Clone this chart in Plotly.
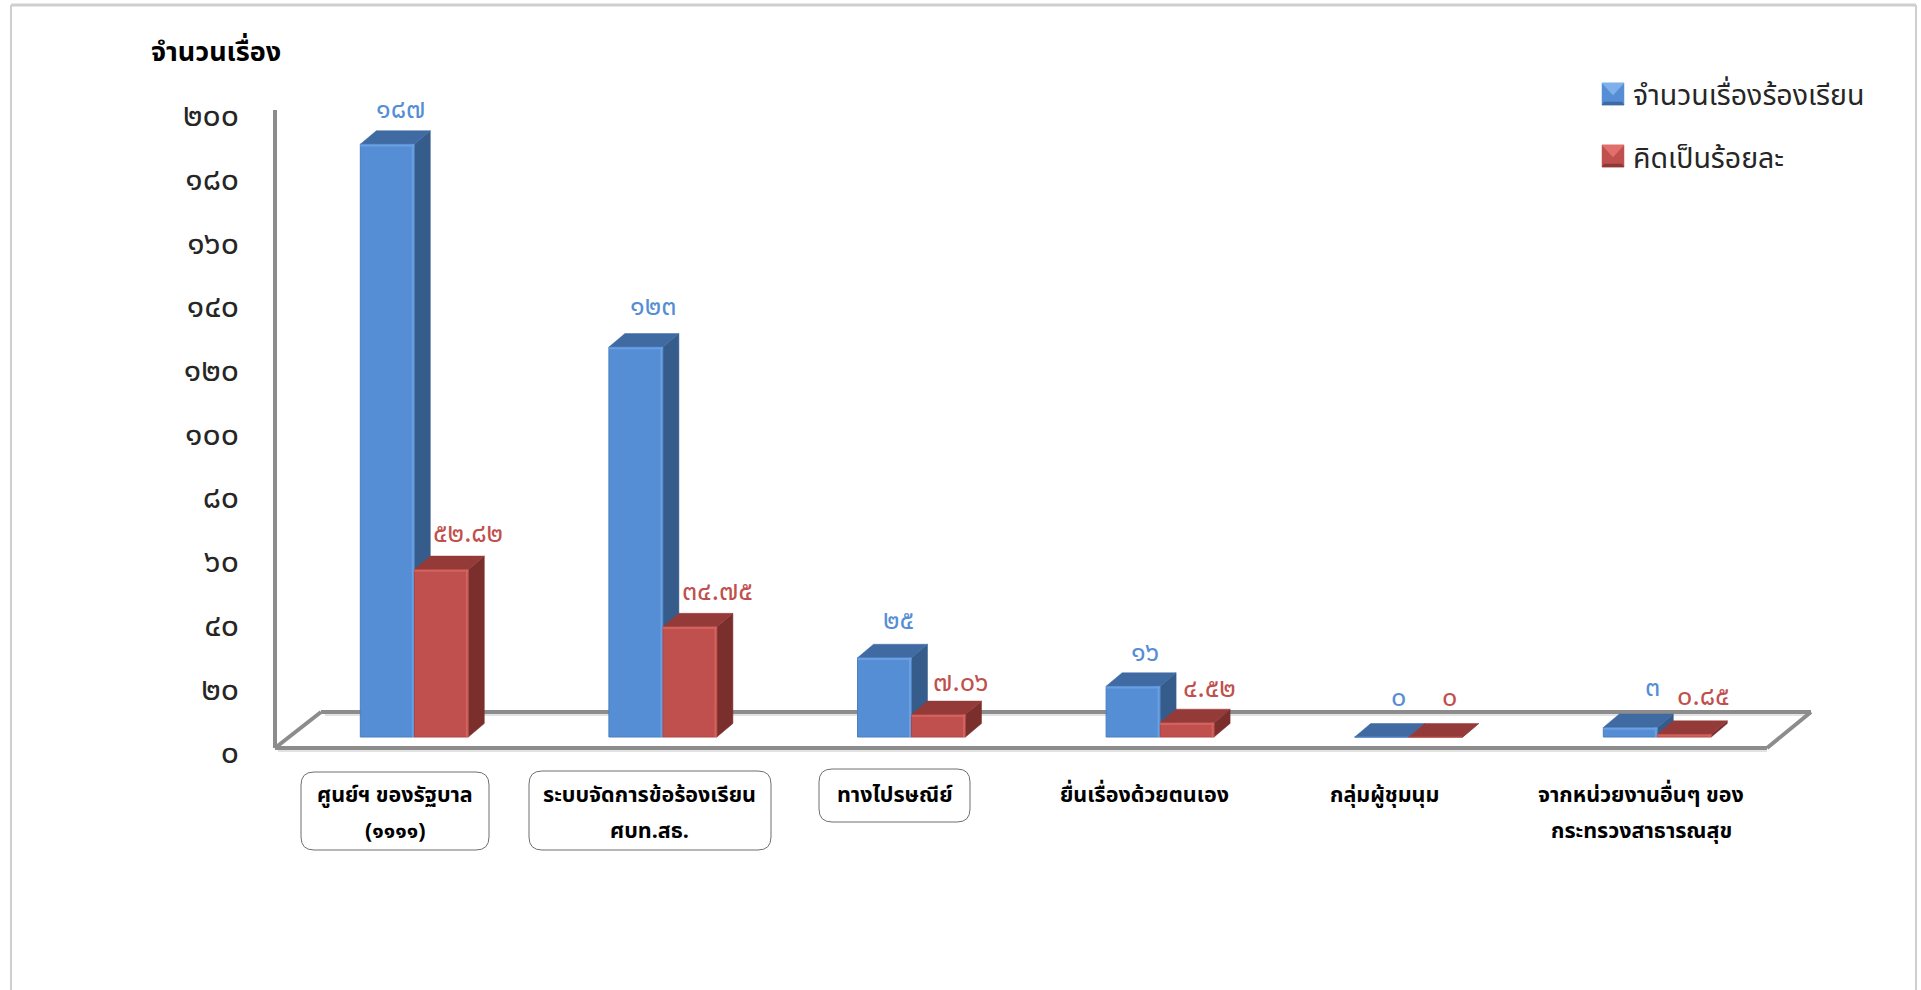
import plotly.graph_objects as go

# ---- data ----
categories = ["ศูนย์ฯ ของรัฐบาล (๑๑๑๑)", "ระบบจัดการข้อร้องเรียน ศบท.สธ.", "ทางไปรษณีย์",
              "ยื่นเรื่องด้วยตนเอง", "กลุ่มผู้ชุมนุม", "จากหน่วยงานอื่นๆ ของ กระทรวงสาธารณสุข"]
category_lines = [["ศูนย์ฯ ของรัฐบาล", "(๑๑๑๑)"], ["ระบบจัดการข้อร้องเรียน", "ศบท.สธ."], ["ทางไปรษณีย์"],
                  ["ยื่นเรื่องด้วยตนเอง"], ["กลุ่มผู้ชุมนุม"], ["จากหน่วยงานอื่นๆ ของ", "กระทรวงสาธารณสุข"]]
complaints = [187, 123, 25, 16, 0, 3]
percent = [52.82, 34.75, 7.06, 4.52, 0, 0.85]
complaints_text = ["๑๘๗", "๑๒๓", "๒๕", "๑๖", "๐", "๓"]
percent_text = ["๕๒.๘๒", "๓๔.๗๕", "๗.๐๖", "๔.๕๒", "๐", "๐.๘๕"]
tick_values = list(range(0, 201, 20))
tick_text = ["๐", "๒๐", "๔๐", "๖๐", "๘๐", "๑๐๐", "๑๒๐", "๑๔๐", "๑๖๐", "๑๘๐", "๒๐๐"]
series_names = ["จำนวนเรื่องร้องเรียน", "คิดเป็นร้อยละ"]
y_title = "จำนวนเรื่อง"

# ---- layout constants (pixels of the 1921x990 page) ----
W, H = 1921, 990
FONT = "Noto Sans Thai, Noto Sans, Tahoma, sans-serif"
GROUP0_PX, GROUP_STEP_PX = 414.3, 248.6
BASE_PX, UNIT_PX = 737.0, 3.17
TICK0_PX, TICK_UNIT_PX = 752.0, 3.185
BAR_PX, DEPTH_X_PX, DEPTH_Y_PX = 54.0, 16.0, 13.5
BLUE, BLUE_SIDE, BLUE_TOP, BLUE_RIM = "#558ed5", "#355c8a", "#3f6ba2", "#6a9fe2"
RED, RED_SIDE, RED_TOP, RED_RIM = "#c0504d", "#7b2f2d", "#943a38", "#d2625e"
GREY = "#8c8c8c"

xr = [(0 - GROUP0_PX) / GROUP_STEP_PX, (W - GROUP0_PX) / GROUP_STEP_PX]
yr = [(BASE_PX - H) / UNIT_PX, BASE_PX / UNIT_PX]
yr2 = [(TICK0_PX - H) / TICK_UNIT_PX, TICK0_PX / TICK_UNIT_PX]
px = lambda x: x / W
py = lambda y: 1 - y / H
dx = DEPTH_X_PX / GROUP_STEP_PX
dy = DEPTH_Y_PX / UNIT_PX
bw = BAR_PX / GROUP_STEP_PX

fig = go.Figure()
fig.add_bar(x=categories, y=complaints, name=series_names[0], marker=dict(color=BLUE, line=dict(color="#4a7fc0", width=1)))
fig.add_bar(x=categories, y=percent, name=series_names[1], marker=dict(color=RED, line=dict(color="#b04643", width=1)))
fig.add_scatter(x=[categories[0]] * len(tick_values), y=tick_values, yaxis="y2", mode="none",
                showlegend=False, hoverinfo="skip")

shapes = []


def poly(points, fill, ref=("x", "y")):
    path = "M" + "L".join(f"{a},{b}" for a, b in points) + "Z"
    shapes.append(dict(type="path", path=path, xref=ref[0], yref=ref[1], fillcolor=fill,
                       line=dict(color=fill, width=0.5), layer="below"))


def line(x0, y0, x1, y1, color=GREY, width=4):
    shapes.append(dict(type="line", x0=px(x0), y0=py(y0), x1=px(x1), y1=py(y1), xref="paper", yref="paper",
                       line=dict(color=color, width=width), layer="below"))


def rim(x0, y0, x1, y1, color):
    shapes.append(dict(type="line", x0=x0, y0=y0, x1=x1, y1=y1, xref="x", yref="y",
                       line=dict(color=color, width=2), layer="above"))


def rounded(x0, y0, x1, y1, r=13):
    p = (f"M{px(x0 + r)},{py(y0)}L{px(x1 - r)},{py(y0)}Q{px(x1)},{py(y0)} {px(x1)},{py(y0 + r)}"
         f"L{px(x1)},{py(y1 - r)}Q{px(x1)},{py(y1)} {px(x1 - r)},{py(y1)}L{px(x0 + r)},{py(y1)}"
         f"Q{px(x0)},{py(y1)} {px(x0)},{py(y1 - r)}L{px(x0)},{py(y0 + r)}Q{px(x0)},{py(y0)} {px(x0 + r)},{py(y0)}Z")
    shapes.append(dict(type="path", path=p, xref="paper", yref="paper", line=dict(color="#6f6f6f", width=1),
                       fillcolor="rgba(0,0,0,0)"))


# frame of the page
line(11, 990, 11, 5, "#cfcfcf", 2)
line(11, 5, 1916, 5, "#cfcfcf", 3)
line(1916, 5, 1916, 990, "#cfcfcf", 2)

# soft shadow of the floor, then walls and floor
line(325, 715, 1806, 715, "#e2e2e2", 2)
line(278, 751, 1767, 751, "#e2e2e2", 2)
line(275, 110, 275, 748)
line(275, 748, 1767, 748)
line(275, 748, 321, 712)
line(321, 712, 1811, 712)
line(1811, 712, 1767, 748)

# depth faces of the bars, computed from the values
r_px = 1.5 / GROUP_STEP_PX
for i, (a, b) in enumerate(zip(complaints, percent)):
    poly([(i, a), (i + dx, a + dy), (i + dx, dy), (i, 0)], BLUE_SIDE)
    poly([(i - bw, a), (i, a), (i + dx, a + dy), (i - bw + dx, a + dy)], BLUE_TOP)
    poly([(i + bw, b), (i + bw + dx, b + dy), (i + bw + dx, dy), (i + bw, 0)], RED_SIDE)
    poly([(i, b), (i + bw, b), (i + bw + dx, b + dy), (i + dx, b + dy)], RED_TOP)
    if a > 1:
        rim(i - bw, a - 0.4, i, a - 0.4, BLUE_RIM)
        rim(i - r_px, a, i - r_px, 0, BLUE_RIM)
    if b > 0.5:
        rim(i, b - 0.4, i + bw, b - 0.4, RED_RIM)
        rim(i + bw - r_px, b, i + bw - r_px, 0, RED_RIM)

annotations = []
LABEL_FONT = 27
blue_nudge_px = [13, 17, 14, 12, 17, 22]
red_nudge_px = [27, 28, 22, 22, 14, 19]
blue_lift_px = [35, 41, 37, 34, 40, 40]
red_lift_px = [36, 35, 32, 34, 40, 38]
for i in range(len(categories)):
    annotations.append(dict(x=i - bw / 2 + blue_nudge_px[i] / GROUP_STEP_PX, y=complaints[i] + blue_lift_px[i] / UNIT_PX,
                            xref="x", yref="y", text=complaints_text[i], showarrow=False, yanchor="middle",
                            font=dict(family=FONT, size=LABEL_FONT, color=BLUE)))
    annotations.append(dict(x=i + bw / 2 + red_nudge_px[i] / GROUP_STEP_PX, y=percent[i] + red_lift_px[i] / UNIT_PX,
                            xref="x", yref="y", text=percent_text[i], showarrow=False, yanchor="middle",
                            font=dict(family=FONT, size=LABEL_FONT, color=RED)))

# category labels
label_nudge_px = [-19, -13, -17, -16, -24, -16]
LINE_Y = [795, 831]
for i, lines in enumerate(category_lines):
    for j, t in enumerate(lines):
        annotations.append(dict(x=i + label_nudge_px[i] / GROUP_STEP_PX, y=py(LINE_Y[j]), xref="x", yref="paper",
                                text=f"<b>{t}</b>", showarrow=False, yanchor="middle",
                                font=dict(family=FONT, size=21.5, color="#000000")))
rounded(301, 772, 489, 850)
rounded(529, 771, 771, 850)
rounded(819, 769, 970, 822)

# title
annotations.append(dict(x=px(149), y=py(52), xref="paper", yref="paper", xanchor="left", yanchor="middle",
                        text=f"<b>{y_title}</b>", showarrow=False,
                        font=dict(family=FONT, size=27, color="#000000")))

# legend drawn with bevelled keys
for name, cy, main, light, dark in [(series_names[0], 94, BLUE, "#7fb0ea", "#3f6ba2"),
                                    (series_names[1], 156, RED, "#e26f6b", "#8c3836")]:
    s = 11
    cx = 1613
    pf = lambda a, b: (px(a), py(b))
    poly([pf(cx - s, cy - s), pf(cx + s, cy - s), pf(cx + s, cy + s), pf(cx - s, cy + s)], main, ("paper", "paper"))
    poly([pf(cx - s, cy - s), pf(cx + s, cy - s), pf(cx, cy + 1)], light, ("paper", "paper"))
    poly([pf(cx - s, cy + s), pf(cx + s, cy + s), pf(cx + s - 2, cy + s - 3), pf(cx - s + 2, cy + s - 3)], dark, ("paper", "paper"))
    annotations.append(dict(x=px(1631), y=py(cy + 3), xref="paper", yref="paper", xanchor="left", yanchor="middle",
                            text=name, showarrow=False, font=dict(family=FONT, size=28.5, color="#262626")))

fig.update_layout(
    width=W, height=H, margin=dict(l=0, r=0, t=0, b=0), paper_bgcolor="white", plot_bgcolor="rgba(0,0,0,0)",
    barmode="group", bargap=1 - 2 * bw, bargroupgap=0, showlegend=False, shapes=shapes, annotations=annotations,
    xaxis=dict(type="category", range=xr, categoryorder="array", categoryarray=categories, showticklabels=False,
               showgrid=False, zeroline=False, showline=False, ticks=""),
    yaxis=dict(range=yr, showticklabels=False, showgrid=False, zeroline=False, showline=False, ticks=""),
    yaxis2=dict(range=yr2, overlaying="y", anchor="free", position=px(239), side="left", tickvals=tick_values,
                ticktext=tick_text, showgrid=False, zeroline=False, showline=False, ticks="",
                tickfont=dict(family=FONT, size=32, color="#262626")),
)
fig.write_html("out.html", config={"displayModeBar": False},
               post_script="document.body.style.margin='0';document.documentElement.style.overflow='hidden';")
